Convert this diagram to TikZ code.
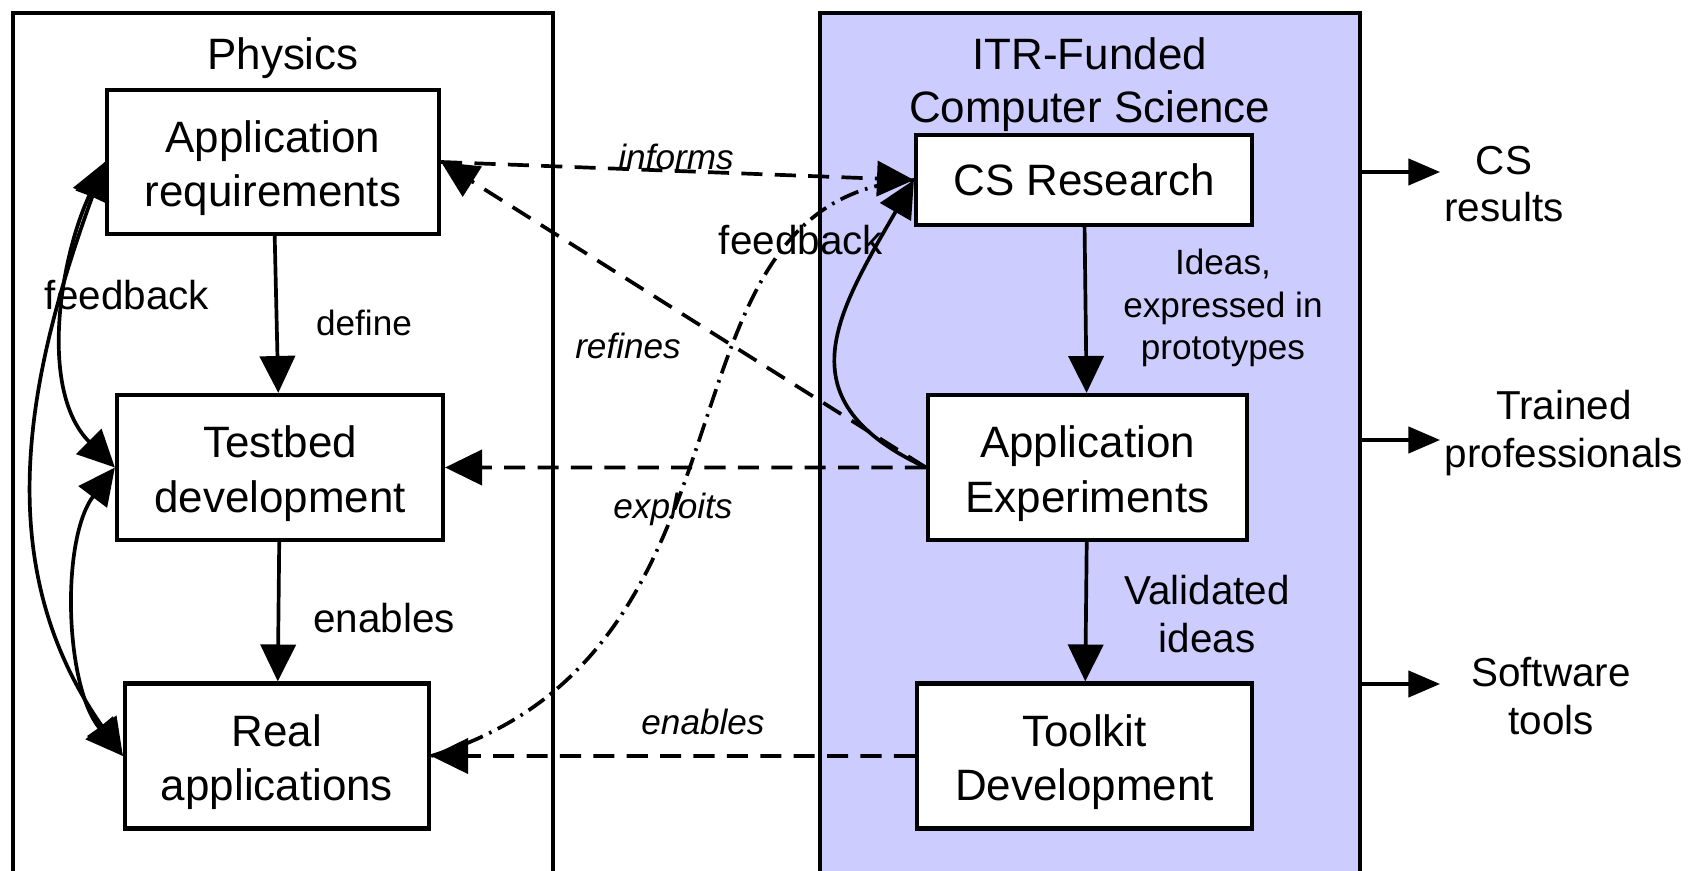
\documentclass[tikz,border=0pt]{standalone}
\usepackage{fontspec}
\setmainfont{Liberation Sans}
\usetikzlibrary{arrows.meta}
\definecolor{itrblue}{RGB}{204,204,255}
\newcommand{\boxstrut}{\rule{0pt}{25pt}}

\begin{document}
\begin{tikzpicture}[node distance=6cm,
    >={Triangle[length=21pt, width=20pt]},
    area/.style={draw, rectangle, line width=2.4pt, anchor=north, minimum width=10.8cm, minimum height=17.5cm},
    box/.style={draw, rectangle, fill=white, line width=2.4pt, align=center, minimum height=2.9cm, font=\fontsize{25}{31}\selectfont},
    title/.style={align=center, font=\fontsize{25}{30}\selectfont},
    lbl/.style={align=center, font=\fontsize{20}{24}\selectfont},
    ital/.style={align=center, font=\fontsize{20}{24}\selectfont\itshape},
    biglbl/.style={align=center, font=\fontsize{23}{27}\selectfont},
    flow/.style={->, line width=2.1pt},
    link/.style={->, line width=2.1pt, dash pattern=on 12pt off 7pt},
    fb/.style={<->, line width=2.1pt},
    yield/.style={-{Triangle[length=18pt, width=15pt]}, line width=1.8pt}]
    \useasboundingbox (0,0) rectangle (33.94,17.4);

    % Areas
    \node[area, fill=itrblue] (itr) at (21.795,17.18) {};
    \node[area] (physics) at (5.66,17.18) {};
    \node[title] (physics title) at ([yshift=-0.94cm]physics.north) {Physics};
    \node[title] (itr title) at ([yshift=-1.48cm]itr.north) {ITR-Funded\\Computer Science};

    % Nodes
    \node[box, minimum width=6.64cm, minimum height=2.88cm] (appreq) at (5.46,14.16) {\boxstrut Application\\requirements};
    \node[box, minimum width=6.52cm, below of=appreq, xshift=0.14cm, yshift=-0.11cm] (testbed) {\boxstrut Testbed\\development};
    \node[box, minimum width=6.08cm, below of=testbed, xshift=-0.06cm, yshift=0.23cm] (real) {\boxstrut Real\\applications};
    \node[box, minimum width=6.72cm, minimum height=1.8cm] (csr) at (21.68,13.80) {CS Research};
    \node[box, minimum width=6.38cm, below of=csr, xshift=0.07cm, yshift=0.25cm] (appexp) {\boxstrut Application\\Experiments};
    \node[box, minimum width=6.7cm, below of=appexp, xshift=-0.06cm, yshift=0.23cm] (toolkit) {\boxstrut Toolkit\\Development};

    % Outputs
    \node[biglbl] (csout) at (30.08,13.72) {CS\\results};
    \node[biglbl] (trained) at (31.28,8.74) {Trained\\professionals};
    \node[biglbl] (software) at (31.02,3.48) {Software\\tools};
    \coordinate (cs tip) at (28.8,13.96);
    \coordinate (trained tip) at (28.8,8.6);
    \coordinate (software tip) at (28.8,3.72);

    % Labels
    \node[lbl] (define) at (7.28,10.94) {define};
    \node[biglbl] (enables) at (7.68,5.04) {enables};
    \node[biglbl] (feedback left) at (2.54,11.5) {feedback};
    \node[ital] (informs) at (13.52,14.26) {informs};
    \node[biglbl] (feedback mid) at (16.02,12.6) {feedback};
    \node[ital] (refines) at (12.56,10.48) {refines};
    \node[ital] (exploits) at (13.46,7.22) {exploits};
    \node[ital] (enables it) at (14.06,2.96) {enables};
    \node[lbl] (ideas) at (24.46,11.24) {Ideas,\\expressed in\\prototypes};
    \node[biglbl] (validated) at (24.14,5.12) {Validated\\ideas};

    % Arrows
    \draw[flow] (appreq) -- (testbed);
    \draw[flow] (testbed) -- (real);
    \draw[flow] (csr) -- (appexp);
    \draw[flow] (appexp) -- (toolkit);
    \draw[fb] (appreq.west) to[out=245, in=135, looseness=0.9] (testbed.west);
    \draw[fb] (appreq.west) to[out=250, in=125] (real.west);
    \draw[fb] (testbed.west) to[out=233, in=130, looseness=0.8] (real.west);
    \draw[link] (appreq.east) -- (csr.west);
    \draw[link] (appexp.west) -- (appreq.east);
    \draw[link] (appexp.west) -- (testbed.east);
    \draw[link] (toolkit.west) -- (real.east);
    \draw[flow] (appexp.west) to[out=155, in=240, looseness=1.4] (csr.west);
    \draw[line width=2.1pt, dash pattern=on 11pt off 4pt on 1.5pt off 4pt] (real.east) .. controls (15.6,4.4) and (12.8,13.4) .. (csr.west);
    \draw[yield] (itr.east |- cs tip) -- (cs tip);
    \draw[yield] (itr.east |- trained tip) -- (trained tip);
    \draw[yield] (itr.east |- software tip) -- (software tip);
\end{tikzpicture}
\end{document}
